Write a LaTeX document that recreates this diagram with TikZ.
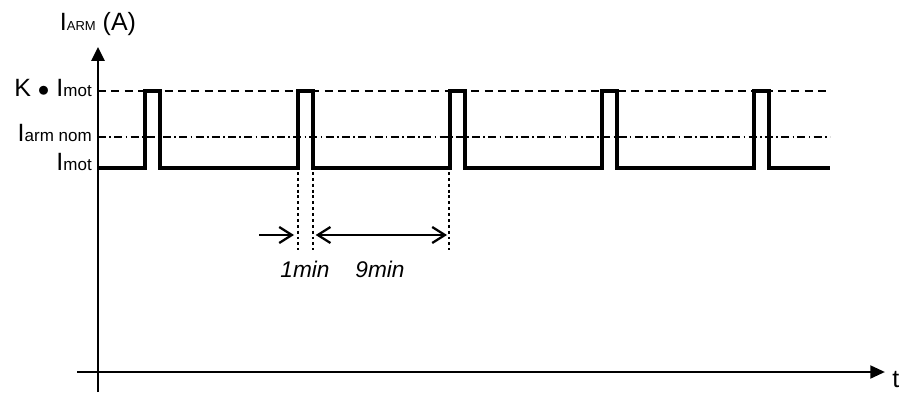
\documentclass[tikz,border=0pt]{standalone}
\usepackage{fontspec}
\setmainfont{Liberation Sans}
\usetikzlibrary{arrows.meta, positioning}

\newcommand{\bigtxt}{\fontsize{18.75}{20}\selectfont}
\newcommand{\subtxt}{\fontsize{12.75}{14}\selectfont}

\begin{document}
\begin{tikzpicture}[x=0.75pt, y=-0.75pt,
    yaxis/.style={line width=1.5pt, -{Triangle[length=10.5pt, width=10pt]}},
    xaxis/.style={line width=2.1pt, -{Triangle[length=11pt, width=9.5pt]}},
    pulse/.style={line width=2.8pt, line join=miter},
    kline/.style={line width=0.8pt, dash pattern=on 6pt off 4pt},
    nomline/.style={line width=0.8pt, dash pattern=on 6pt off 2.5pt on 1.2pt off 2.5pt},
    guide/.style={line width=0.8pt, dash pattern=on 2.2pt off 2.2pt},
    barb/.tip={Straight Barb[length=9.5pt, width=12pt, line width=1.7pt]},
    dim/.style={line width=1.7pt, -barb},
    dimboth/.style={line width=1.7pt, barb-barb},
    lvl/.style={anchor=base east, inner sep=0pt, font=\bigtxt},
    tlab/.style={anchor=base, inner sep=0pt, font=\fontsize{17}{18}\selectfont\itshape}
  ]
    \useasboundingbox (0,0) rectangle (905,392);

    % axes
    \coordinate (ybot) at (98,392);
    \coordinate (ytop) at (98,47);
    \coordinate (xbeg) at (77,372);
    \coordinate (xend) at (885,372);
    \draw[yaxis] (ybot) -- (ytop);
    \draw[xaxis] (xbeg) -- (xend);
    \node[anchor=base, inner sep=0pt, font=\bigtxt] (ylab) at (98,31)
      {I{\fontsize{9.75}{10}\selectfont ARM} (A)};
    \node[anchor=base west, inner sep=0pt, font=\bigtxt] (tlab) at (892,387) {t};

    % reference levels
    \coordinate (kbeg) at (98,91);   \coordinate (kend) at (830,91);
    \coordinate (nbeg) at (98,137);  \coordinate (nend) at (830,137);
    \draw[kline] (kbeg) -- (kend);
    \draw[nomline] (nbeg) -- (nend);
    \node[lvl] (klab) at (92,97) {K $\bullet$ I{\subtxt mot}};
    \node[lvl] (nlab) at (92,142) {I{\subtxt arm nom}};
    \node[lvl] (mlab) at (92,170) {I{\subtxt mot}};

    % current
    \draw[pulse] (98,168)
      \foreach \x in {145,298,450,602,754} { -- (\x,168) -- (\x,91) -- (\x+15,91) -- (\x+15,168) }
      -- (830,168);

    % timing marks
    \foreach \x/\n in {298/ga, 313/gb, 449/gc} {
      \coordinate (\n top) at (\x,172);
      \coordinate (\n bot) at (\x,250);
      \coordinate (\n) at (\x,235);
      \draw[guide] (\n top) -- (\n bot);
    }
    \coordinate (dstart) at (259,235);
    \draw[dim, shorten >=3pt] (dstart) -- (ga);
    \draw[dimboth, shorten <=2pt, shorten >=1.5pt] (gb) -- (gc);
    \node[tlab] (onemin) at (305,277) {1min};
    \node[tlab] (ninemin) at (380,277) {9min};
  \end{tikzpicture}
\end{document}
